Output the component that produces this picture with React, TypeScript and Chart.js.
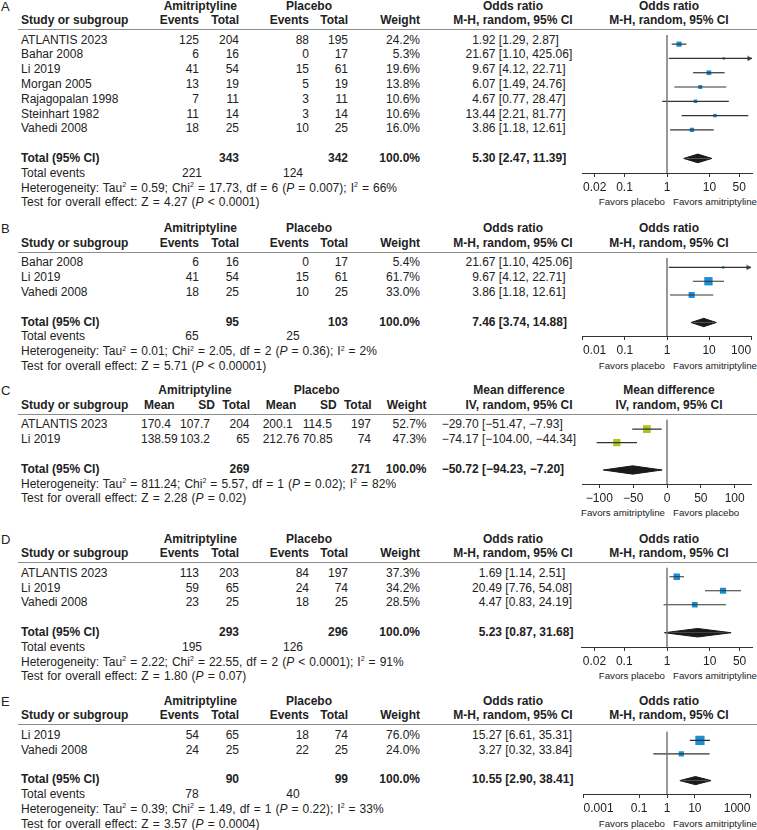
import React, { useEffect, useRef } from "react";
import { Chart, registerables } from "chart.js";

Chart.register(...registerables);

const FONT = '"Liberation Sans", Arial, Helvetica, sans-serif';
Chart.defaults.font.family = FONT;
const INK = "#222222";
const PAGE_W = 757;
const PAGE_H = 830;
const ROW_H = 14.8;
const AXIS_H = 24;
const DIAMOND_HALF = 4.5 / ROW_H;
const BLUE = "#1b8fd6";
const GREEN = "#a8c61c";

// ---------- Panel A ----------
const A_STUDIES = ["ATLANTIS 2023", "Bahar 2008", "Li 2019", "Morgan 2005", "Rajagopalan 1998", "Steinhart 1982", "Vahedi 2008"];
const A_AMI_EVENTS = [125, 6, 41, 13, 7, 11, 18];
const A_AMI_TOTAL = [204, 16, 54, 19, 11, 14, 25];
const A_PLA_EVENTS = [88, 0, 15, 5, 3, 3, 10];
const A_PLA_TOTAL = [195, 17, 61, 19, 11, 14, 25];
const A_WEIGHT = [24.2, 5.3, 19.6, 13.8, 10.6, 10.6, 16.0];
const A_OR = [1.92, 21.67, 9.67, 6.07, 4.67, 13.44, 3.86];
const A_LO = [1.29, 1.10, 4.12, 1.49, 0.77, 2.21, 1.18];
const A_HI = [2.87, 425.06, 22.71, 24.76, 28.47, 81.77, 12.61];
const A_TOTAL_N = [343, 342];
const A_TOTAL_OR = [5.30, 2.47, 11.39];
const A_TOTAL_EVENTS = [221, 124];
const A_HET = ["0.59", "17.73", "6", "= 0.007", "66"];
const A_TEST = ["4.27", "< 0.0001"];
const A_RANGE = [0.01, 100];
const A_TICKS = [0.02, 0.1, 1, 10, 50];
const A_TICK_LABELS = ["0.02", "0.1", "1", "10", "50"];

// ---------- Panel B ----------
const B_STUDIES = ["Bahar 2008", "Li 2019", "Vahedi 2008"];
const B_AMI_EVENTS = [6, 41, 18];
const B_AMI_TOTAL = [16, 54, 25];
const B_PLA_EVENTS = [0, 15, 10];
const B_PLA_TOTAL = [17, 61, 25];
const B_WEIGHT = [5.4, 61.7, 33.0];
const B_OR = [21.67, 9.67, 3.86];
const B_LO = [1.10, 4.12, 1.18];
const B_HI = [425.06, 22.71, 12.61];
const B_TOTAL_N = [95, 103];
const B_TOTAL_OR = [7.46, 3.74, 14.88];
const B_TOTAL_EVENTS = [65, 25];
const B_HET = ["0.01", "2.05", "2", "= 0.36", "2"];
const B_TEST = ["5.71", "< 0.00001"];
const B_RANGE = [0.01, 100];
const B_TICKS = [0.01, 0.1, 1, 10, 100];
const B_TICK_LABELS = ["0.01", "0.1", "1", "10", "100"];

// ---------- Panel C ----------
const C_STUDIES = ["ATLANTIS 2023", "Li 2019"];
const C_AMI_MEAN = [170.4, 138.59];
const C_AMI_SD = [107.7, 103.2];
const C_AMI_TOTAL = [204, 65];
const C_PLA_MEAN = [200.1, 212.76];
const C_PLA_SD = [114.5, 70.85];
const C_PLA_TOTAL = [197, 74];
const C_WEIGHT = [52.7, 47.3];
const C_MD = [-29.70, -74.17];
const C_LO = [-51.47, -104.00];
const C_HI = [-7.93, -44.34];
const C_TOTAL_N = [269, 271];
const C_TOTAL_MD = [-50.72, -94.23, -7.20];
const C_HET = ["811.24", "5.57", "1", "= 0.02", "82"];
const C_TEST = ["2.28", "= 0.02"];
const C_RANGE = [-125, 125];
const C_TICKS = [-100, -50, 0, 50, 100];
const C_TICK_LABELS = ["\u2212100", "\u221250", "0", "50", "100"];

// ---------- Panel D ----------
const D_STUDIES = ["ATLANTIS 2023", "Li 2019", "Vahedi 2008"];
const D_AMI_EVENTS = [113, 59, 23];
const D_AMI_TOTAL = [203, 65, 25];
const D_PLA_EVENTS = [84, 24, 18];
const D_PLA_TOTAL = [197, 74, 25];
const D_WEIGHT = [37.3, 34.2, 28.5];
const D_OR = [1.69, 20.49, 4.47];
const D_LO = [1.14, 7.76, 0.83];
const D_HI = [2.51, 54.08, 24.19];
const D_TOTAL_N = [293, 296];
const D_TOTAL_OR = [5.23, 0.87, 31.68];
const D_TOTAL_EVENTS = [195, 126];
const D_HET = ["2.22", "22.55", "2", "< 0.0001", "91"];
const D_TEST = ["1.80", "= 0.07"];
const D_RANGE = [0.01, 100];
const D_TICKS = [0.02, 0.1, 1, 10, 50];
const D_TICK_LABELS = ["0.02", "0.1", "1", "10", "50"];

// ---------- Panel E ----------
const E_STUDIES = ["Li 2019", "Vahedi 2008"];
const E_AMI_EVENTS = [54, 24];
const E_AMI_TOTAL = [65, 25];
const E_PLA_EVENTS = [18, 22];
const E_PLA_TOTAL = [74, 25];
const E_WEIGHT = [76.0, 24.0];
const E_OR = [15.27, 3.27];
const E_LO = [6.61, 0.32];
const E_HI = [35.31, 33.84];
const E_TOTAL_N = [90, 99];
const E_TOTAL_OR = [10.55, 2.90, 38.41];
const E_TOTAL_EVENTS = [78, 40];
const E_HET = ["0.39", "1.49", "1", "= 0.22", "33"];
const E_TEST = ["3.57", "= 0.0004"];
const E_RANGE = [0.001, 1000];
const E_TICKS = [0.001, 0.1, 1, 10, 1000];
const E_TICK_LABELS = ["0.001", "0.1", "1", "10", "1000"];

type Panel = {
  letter: string;
  kind: "or" | "md";
  row0: number;
  estX: number;
  studies: string[];
  cols: number[][];
  weight: number[];
  est: number[];
  lo: number[];
  hi: number[];
  totalN: number[];
  totalEst: number[];
  totalEvents?: number[];
  het: string[];
  test: string[];
  range: number[];
  ticks: number[];
  tickLabels: string[];
  tickAlign: "center" | "inner";
};

const PANELS: Panel[] = [
  { letter: "A", kind: "or", row0: 39.5, estX: 495.5, studies: A_STUDIES, cols: [A_AMI_EVENTS, A_AMI_TOTAL, A_PLA_EVENTS, A_PLA_TOTAL], weight: A_WEIGHT, est: A_OR, lo: A_LO, hi: A_HI, totalN: A_TOTAL_N, totalEst: A_TOTAL_OR, totalEvents: A_TOTAL_EVENTS, het: A_HET, test: A_TEST, range: A_RANGE, ticks: A_TICKS, tickLabels: A_TICK_LABELS, tickAlign: "center" },
  { letter: "B", kind: "or", row0: 262.3, estX: 495.5, studies: B_STUDIES, cols: [B_AMI_EVENTS, B_AMI_TOTAL, B_PLA_EVENTS, B_PLA_TOTAL], weight: B_WEIGHT, est: B_OR, lo: B_LO, hi: B_HI, totalN: B_TOTAL_N, totalEst: B_TOTAL_OR, totalEvents: B_TOTAL_EVENTS, het: B_HET, test: B_TEST, range: B_RANGE, ticks: B_TICKS, tickLabels: B_TICK_LABELS, tickAlign: "inner" },
  { letter: "C", kind: "md", row0: 424.4, estX: 478.7, studies: C_STUDIES, cols: [C_AMI_MEAN, C_AMI_SD, C_AMI_TOTAL, C_PLA_MEAN, C_PLA_SD, C_PLA_TOTAL], weight: C_WEIGHT, est: C_MD, lo: C_LO, hi: C_HI, totalN: C_TOTAL_N, totalEst: C_TOTAL_MD, het: C_HET, test: C_TEST, range: C_RANGE, ticks: C_TICKS, tickLabels: C_TICK_LABELS, tickAlign: "center" },
  { letter: "D", kind: "or", row0: 572.7, estX: 502, studies: D_STUDIES, cols: [D_AMI_EVENTS, D_AMI_TOTAL, D_PLA_EVENTS, D_PLA_TOTAL], weight: D_WEIGHT, est: D_OR, lo: D_LO, hi: D_HI, totalN: D_TOTAL_N, totalEst: D_TOTAL_OR, totalEvents: D_TOTAL_EVENTS, het: D_HET, test: D_TEST, range: D_RANGE, ticks: D_TICKS, tickLabels: D_TICK_LABELS, tickAlign: "center" },
  { letter: "E", kind: "or", row0: 734.8, estX: 502, studies: E_STUDIES, cols: [E_AMI_EVENTS, E_AMI_TOTAL, E_PLA_EVENTS, E_PLA_TOTAL], weight: E_WEIGHT, est: E_OR, lo: E_LO, hi: E_HI, totalN: E_TOTAL_N, totalEst: E_TOTAL_OR, totalEvents: E_TOTAL_EVENTS, het: E_HET, test: E_TEST, range: E_RANGE, ticks: E_TICKS, tickLabels: E_TICK_LABELS, tickAlign: "inner" },
];

const fmt2 = (v: number) => v.toFixed(2).replace("-", "\u2212");

type TProps = { x: number; y: number; align?: "left" | "right" | "center"; bold?: boolean; size?: number; ws?: number; children?: any };
function T({ x, y, align = "left", bold = false, size = 12, ws = 0, children }: TProps) {
  const style: any = {
    position: "absolute",
    top: y - 6,
    whiteSpace: "pre",
    lineHeight: "12px",
    height: 12,
    fontSize: size,
    fontWeight: bold ? 700 : 400,
    fontFamily: FONT,
    color: INK,
    wordSpacing: ws,
  };
  if (align === "left") style.left = x;
  else if (align === "right") style.right = PAGE_W - x;
  else {
    style.left = x;
    style.transform = "translateX(-50%)";
  }
  return <div style={style}>{children}</div>;
}

const Sup = () => (
  <span style={{ fontSize: 7, position: "relative", top: -4.5 }}>2</span>
);

function makeArrow(): HTMLCanvasElement {
  const c = document.createElement("canvas");
  c.width = 10;
  c.height = 6;
  const g = c.getContext("2d")!;
  g.fillStyle = "#222";
  g.beginPath();
  g.moveTo(0.5, 0.5);
  g.lineTo(5, 3);
  g.lineTo(0.5, 5.5);
  g.closePath();
  g.fill();
  return c;
}

function ForestPlot({ p }: { p: Panel }) {
  const ref = useRef<HTMLCanvasElement>(null);
  const n = p.est.length;
  const ti = n + 1;
  const top = Math.round(p.row0 - 10);
  const axisY = p.row0 + ROW_H * (ti + 1);
  const plotH = Math.round(axisY - top);
  const height = plotH + AXIS_H;
  const yMin = (top - p.row0) / ROW_H;
  const yMax = (top + plotH - p.row0) / ROW_H;

  useEffect(() => {
    const isLog = p.kind === "or";
    const [xmin, xmax] = p.range;
    const nullValue = isLog ? 1 : 0;
    const clampX = (v: number) => Math.min(Math.max(v, xmin), xmax);
    const datasets: any[] = [];
    datasets.push({
      data: [{ x: nullValue, y: yMin }, { x: nullValue, y: yMax }],
      showLine: true, borderColor: "#6e6e6e", borderWidth: 1.4, pointRadius: 0,
    });
    p.est.forEach((_e, i) => {
      datasets.push({
        data: [{ x: clampX(p.lo[i]), y: i }, { x: clampX(p.hi[i]), y: i }],
        showLine: true, borderColor: "#333333", borderWidth: 1.2, pointRadius: 0,
      });
    });
    const arrows = p.hi
      .map((h, i) => (h > xmax ? { x: xmax, y: i } : null))
      .filter((v) => v !== null);
    if (arrows.length) {
      datasets.push({ data: arrows, pointStyle: makeArrow(), pointRadius: 4, showLine: false });
    }
    datasets.push({
      data: p.est.map((e, i) => ({ x: e, y: i })),
      pointStyle: "rect",
      pointRadius: p.weight.map((w) => Math.sqrt(w) * 0.75),
      pointBackgroundColor: p.kind === "md" ? GREEN : BLUE,
      pointBorderWidth: 0,
      showLine: false,
    });
    const [te, tl, th] = p.totalEst;
    [-DIAMOND_HALF, DIAMOND_HALF].forEach((dh) => {
      datasets.push({
        data: [{ x: tl, y: ti }, { x: te, y: ti + dh }, { x: th, y: ti }],
        showLine: true, borderColor: "#1a1a1a", borderWidth: 1, backgroundColor: "#1a1a1a",
        fill: { value: ti }, pointRadius: 0,
      });
    });

    const chart = new Chart(ref.current!, {
      type: "scatter",
      data: { datasets },
      options: {
        animation: false,
        responsive: false,
        events: [],
        layout: { padding: { left: 4, right: 0, top: 0, bottom: 0 } },
        plugins: { legend: { display: false }, tooltip: { enabled: false } },
        scales: {
          x: {
            type: isLog ? "logarithmic" : "linear",
            min: xmin,
            max: xmax,
            offset: false,
            afterBuildTicks: (s: any) => {
              s.ticks = p.ticks.map((v) => ({ value: v }));
            },
            afterFit: (s: any) => {
              s.height = AXIS_H;
              s.paddingLeft = 0;
              s.paddingRight = 0;
            },
            ticks: {
              autoSkip: false,
              maxRotation: 0,
              minRotation: 0,
              align: p.tickAlign,
              padding: 3,
              color: INK,
              font: { family: FONT, size: 12 },
              callback: (_v: any, i: number) => p.tickLabels[i],
            },
            grid: { drawOnChartArea: false, drawTicks: true, tickLength: 4, color: "#333333", lineWidth: 1 },
            border: { display: true, color: "#333333", width: 1 },
          } as any,
          y: { type: "linear", display: false, reverse: true, min: yMin, max: yMax },
        },
      } as any,
    });
    return () => chart.destroy();
  }, []);

  return (
    <canvas
      ref={ref}
      width={180}
      height={height}
      style={{ position: "absolute", left: 577, top, width: 180, height }}
    />
  );
}

function PanelView({ p }: { p: Panel }) {
  const rowY = (i: number) => p.row0 + i * ROW_H;
  const n = p.studies.length;
  const ti = n + 1;
  const h1 = p.row0 - 34;
  const h2 = p.row0 - 19.5;
  const isOr = p.kind === "or";
  const estX = p.estX;
  const wX = isOr ? 420 : 426.5;
  const effTitle = isOr ? "Odds ratio" : "Mean difference";
  const method = isOr ? "M-H, random, 95% CI" : "IV, random, 95% CI";
  const favL = isOr ? "Favors placebo" : "Favors amitriptyline";
  const favR = isOr ? "Favors amitriptyline" : "Favors placebo";
  const hetRow = isOr ? ti + 2 : ti + 1;
  const testRow = hetRow + 1;

  const estCells = (i: number, e: number, l: number, h: number, bold: boolean) => (
    <React.Fragment key={"e" + i}>
      <T x={estX} y={rowY(i)} align="right" bold={bold}>{fmt2(e)}</T>
      <T x={estX} y={rowY(i)} bold={bold}>{" [" + fmt2(l) + ", " + fmt2(h) + "]"}</T>
    </React.Fragment>
  );

  return (
    <>
      <T x={1} y={p.row0 - 33} size={13}>{p.letter}</T>
      {isOr ? (
        <>
          <T x={200.3} y={h1} align="center" bold>Amitriptyline</T>
          <T x={309} y={h1} align="center" bold>Placebo</T>
          <T x={21} y={h2} bold>Study or subgroup</T>
          <T x={199} y={h2} align="right" bold>Events</T>
          <T x={239} y={h2} align="right" bold>Total</T>
          <T x={309} y={h2} align="right" bold>Events</T>
          <T x={348} y={h2} align="right" bold>Total</T>
        </>
      ) : (
        <>
          <T x={195} y={h1} align="center" bold>Amitriptyline</T>
          <T x={316.7} y={h1} align="center" bold>Placebo</T>
          <T x={21} y={h2} bold>Study or subgroup</T>
          <T x={144} y={h2} bold>Mean</T>
          <T x={215} y={h2} align="right" bold>SD</T>
          <T x={250} y={h2} align="right" bold>Total</T>
          <T x={265.7} y={h2} bold>Mean</T>
          <T x={336.7} y={h2} align="right" bold>SD</T>
          <T x={371.7} y={h2} align="right" bold>Total</T>
        </>
      )}
      <T x={wX} y={h2} align="right" bold>Weight</T>
      <T x={isOr ? 513 : 519} y={h1} align="center" bold>{effTitle}</T>
      <T x={isOr ? 513 : 519} y={h2} align="center" bold>{method}</T>
      <T x={669} y={h1} align="center" bold>{effTitle}</T>
      <T x={669} y={h2} align="center" bold>{method}</T>
      <div style={{ position: "absolute", left: 18, top: p.row0 - 10.75, width: PAGE_W - 18, height: 0, borderTop: "1.5px solid #8c8c8c" }} />

      {p.studies.map((s, i) => (
        <React.Fragment key={s}>
          <T x={21} y={rowY(i)}>{s}</T>
          {isOr ? (
            <>
              <T x={199} y={rowY(i)} align="right">{String(p.cols[0][i])}</T>
              <T x={239} y={rowY(i)} align="right">{String(p.cols[1][i])}</T>
              <T x={309} y={rowY(i)} align="right">{String(p.cols[2][i])}</T>
              <T x={348} y={rowY(i)} align="right">{String(p.cols[3][i])}</T>
            </>
          ) : (
            <>
              <T x={141} y={rowY(i)}>{String(p.cols[0][i])}</T>
              <T x={180} y={rowY(i)}>{String(p.cols[1][i])}</T>
              <T x={249.5} y={rowY(i)} align="right">{String(p.cols[2][i])}</T>
              <T x={262.7} y={rowY(i)}>{String(p.cols[3][i])}</T>
              <T x={302.7} y={rowY(i)}>{String(p.cols[4][i])}</T>
              <T x={371} y={rowY(i)} align="right">{String(p.cols[5][i])}</T>
            </>
          )}
          <T x={wX} y={rowY(i)} align="right">{p.weight[i].toFixed(1) + "%"}</T>
          {estCells(i, p.est[i], p.lo[i], p.hi[i], false)}
        </React.Fragment>
      ))}

      <T x={21} y={rowY(ti)} bold>Total (95% CI)</T>
      <T x={isOr ? 239 : 249.5} y={rowY(ti)} align="right" bold>{String(p.totalN[0])}</T>
      <T x={isOr ? 348 : 371} y={rowY(ti)} align="right" bold>{String(p.totalN[1])}</T>
      <T x={wX} y={rowY(ti)} align="right" bold>100.0%</T>
      {estCells(ti, p.totalEst[0], p.totalEst[1], p.totalEst[2], true)}

      {isOr && p.totalEvents ? (
        <>
          <T x={21} y={rowY(ti + 1)}>Total events</T>
          <T x={192} y={rowY(ti + 1)} align="center">{String(p.totalEvents[0])}</T>
          <T x={293} y={rowY(ti + 1)} align="center">{String(p.totalEvents[1])}</T>
        </>
      ) : null}
      <T x={21} y={rowY(hetRow)} ws={0.7}>
        Heterogeneity: Tau<Sup /> = {p.het[0]}; Chi<Sup /> = {p.het[1]}, df = {p.het[2]} (<i>P</i> {p.het[3]}); I<Sup /> = {p.het[4]}%
      </T>
      <T x={21} y={rowY(testRow)} ws={0.8}>
        Test for overall effect: Z = {p.test[0]} (<i>P</i> {p.test[1]})
      </T>

      <T x={665} y={rowY(ti + 3)} align="right" size={9.7}>{favL}</T>
      <T x={673} y={rowY(ti + 3)} size={9.7}>{favR}</T>
      <ForestPlot p={p} />
    </>
  );
}

export default function App() {
  return (
    <div
      style={{
        position: "absolute",
        left: 0,
        top: 0,
        width: PAGE_W,
        height: PAGE_H,
        overflow: "hidden",
        background: "#ffffff",
        fontFamily: FONT,
      }}
    >
      {PANELS.map((p) => (
        <PanelView key={p.letter} p={p} />
      ))}
    </div>
  );
}
